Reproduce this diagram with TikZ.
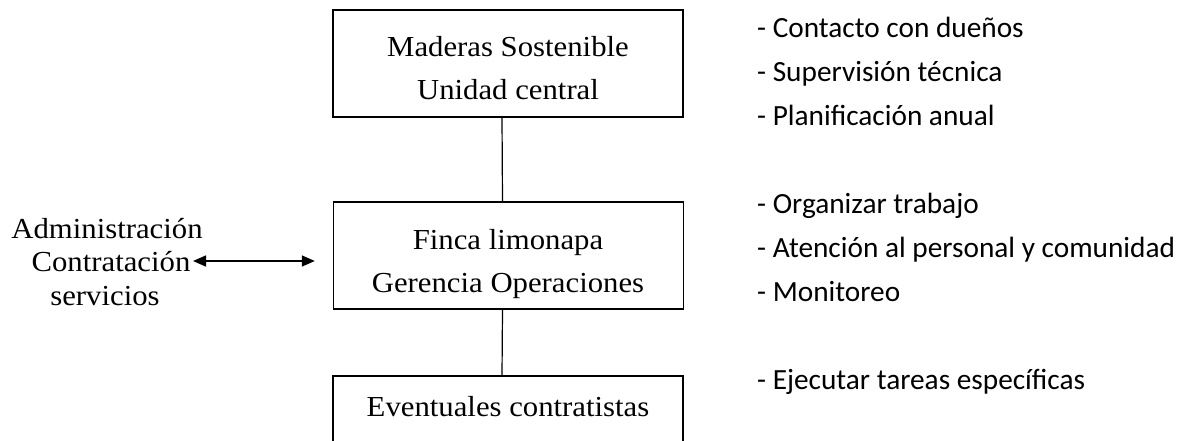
\documentclass[tikz,border=0pt]{standalone}
\usepackage{fontspec}
\setmainfont{Liberation Serif}[FakeStretch=1.06]
\newfontfamily\taskfont{Carlito}
\usetikzlibrary{arrows.meta}

\tikzset{
  unitbox/.style={draw, line width=1.4pt, minimum width=350pt, minimum height=107pt, inner sep=0pt},
  boxtext/.style={anchor=base, inner sep=0pt, font=\fontsize{29}{33}\selectfont},
  tasktext/.style={anchor=base west, inner sep=0pt, font=\taskfont\fontsize{29.3}{34}\selectfont},
  link/.style={line width=1.2pt},
  biarrow/.style={{Triangle[length=13pt,width=11pt]}-{Triangle[length=13pt,width=11pt]}, line width=1.5pt}
}

\begin{document}
\begin{tikzpicture}[x=1pt,y=-1pt]
  \useasboundingbox (0,0) rectangle (1181,440);
  \clip (0,0) rectangle (1181,440);

  % Boxes
  \node[unitbox] (central) at (508,63.5) {};
  \node[unitbox] (finca) at (508.5,255.5) {};
  \node[unitbox] (eventual) at (508,429.5) {};

  % Box texts
  \node[boxtext] (centralA) at (508,56) {Maderas Sostenible};
  \node[boxtext] (centralB) at (508,99) {Unidad central};
  \node[boxtext] (fincaA) at (508,249) {Finca limonapa};
  \node[boxtext] (fincaB) at (508,292) {Gerencia Operaciones};
  \node[boxtext] (eventualA) at (508,416) {Eventuales contratistas};

  % Links between levels
  \draw[link] ([xshift=-6pt]central.south) -- ([xshift=-6pt]finca.north);
  \draw[link] ([xshift=-6pt]finca.south) -- ([xshift=-6pt]eventual.north);

  % Administration side
  \node[boxtext] (adminA) at (107,238) {Administración};
  \node[boxtext] (adminB) at (111,271) {Contratación};
  \node[boxtext] (adminC) at (105,305) {servicios};
  \coordinate (arrL) at (193,261);
  \draw[biarrow] (arrL) -- ([xshift=-18pt]finca.west |- arrL);

  % Tasks
  \node[tasktext] (taskA) at (757,37) {- Contacto con dueños};
  \node[tasktext] (taskB) at (757,81) {- Supervisión técnica};
  \node[tasktext] (taskC) at (757,125) {- Planificación anual};
  \node[tasktext] (taskD) at (757,213) {- Organizar trabajo};
  \node[tasktext] (taskE) at (757,257) {- Atención al personal y comunidad};
  \node[tasktext] (taskF) at (757,301) {- Monitoreo};
  \node[tasktext] (taskG) at (757,389) {- Ejecutar tareas específicas};

\end{tikzpicture}
\end{document}
